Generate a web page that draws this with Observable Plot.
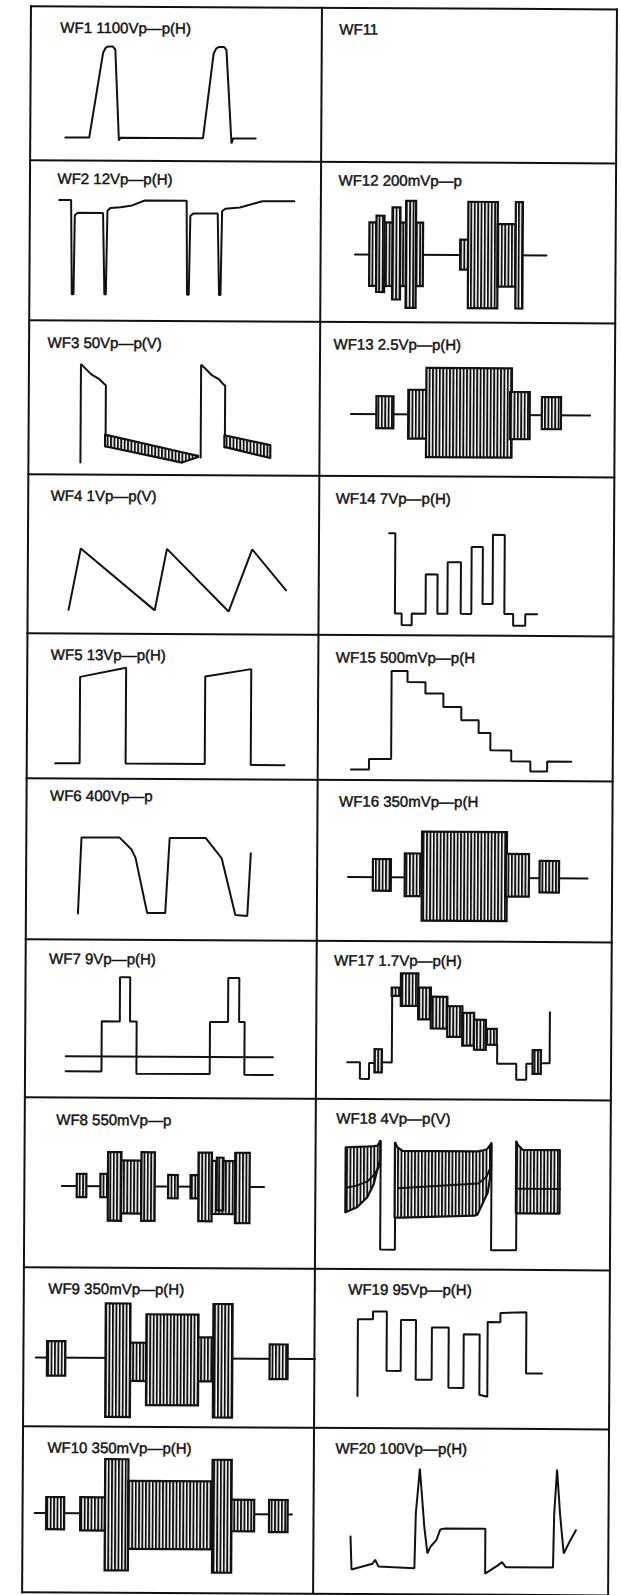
<!DOCTYPE html>
<html><head><meta charset="utf-8">
<script src="https://cdn.jsdelivr.net/npm/d3@7"></script>
<script src="https://cdn.jsdelivr.net/npm/@observablehq/plot@0.6"></script>
<style>
html,body{margin:0;padding:0;background:#fff;}
#sheet{position:relative;width:621px;height:1595px;overflow:hidden;background:#fff;}
#grid{position:absolute;left:0;top:0;width:621px;height:1595px;transform:rotate(0.32deg);transform-origin:0 0;}
.panel{position:absolute;}
.ln{position:absolute;background:#111;}
</style></head><body>
<svg width="0" height="0" style="position:absolute;left:0;top:0">
 <defs>
  <pattern id="hatch" width="3.4" height="10" patternUnits="userSpaceOnUse">
   <rect width="3.4" height="10" fill="#fff"/>
   <rect width="1.9" height="10" fill="#111"/>
  </pattern>
 </defs>
</svg>
<div id="sheet"><div id="grid"></div></div>
<script>
// ---------- labels ----------
const labels = [
  "WF1 1100Vp—p(H)", "WF2 12Vp—p(H)", "WF3 50Vp—p(V)", "WF4 1Vp—p(V)", "WF5 13Vp—p(H)",
  "WF6 400Vp—p", "WF7 9Vp—p(H)", "WF8 550mVp—p", "WF9 350mVp—p(H)", "WF10 350mVp—p(H)",
  "WF11", "WF12 200mVp—p", "WF13 2.5Vp—p(H)", "WF14 7Vp—p(H)", "WF15 500mVp—p(H",
  "WF16 350mVp—p(H", "WF17 1.7Vp—p(H)", "WF18 4Vp—p(V)", "WF19 95Vp—p(H)", "WF20 100Vp—p(H)"
];

// ---------- waveform traces (time %, amplitude %) ----------
const wf1Trace = [[[11.9,15.2],[20.1,15.2],[24.7,70.3],[25.6,73.6],[26.5,74.5],[28.0,74.5],[28.9,72.5],[30.3,13.4],[30.8,15.2],[59.2,15.2],[62.7,70.3],[63.6,73.6],[64.5,74.5],[66.3,74.5],[67.1,72.5],[69.0,11.9],[69.5,15.2],[77.3,15.2]]];
const wf2Trace = [[[9.9,75.5],[14.0,75.5],[14.4,16.7],[15.0,16.7],[15.3,66.0],[16.3,67.6],[25.0,67.6],[25.6,16.7],[26.1,16.7],[26.5,69.0],[27.5,70.7],[31.0,71.2],[35.0,72.4],[39.3,75.5],[53.7,75.5],[54.0,16.7],[54.6,16.7],[55.0,66.0],[56.0,67.6],[64.4,67.6],[65.0,16.7],[65.5,16.7],[65.9,69.0],[67.0,70.7],[72.0,71.5],[76.0,73.5],[79.7,75.5],[90.7,75.5]]];
const wf3Trace = [
  [[17.7,8.1],[17.7,72.0],[19.1,69.4],[21.2,65.5],[23.9,62.5],[25.6,59.5],[26.3,58.4],[26.3,18.4]],
  [[59.0,11.8],[59.0,72.0],[60.5,69.4],[62.5,65.5],[65.2,62.5],[66.6,59.5],[67.3,58.4],[67.3,18.4]]
];
const wf3Bands = [
  [[26.3,18.4,26.0],[52.8,8.1,14.8],[58.3,11.8,12.5]],
  [[67.3,18.4,26.0],[83.1,11.4,19.7]]
];
const wf4Trace = [[[13.9,15.1],[18.0,53.8],[43.5,15.1],[47.6,53.8],[68.9,14.6],[76.9,53.8],[88.6,28.2]]];
const wf5Trace = [[[9.6,10.8],[18.0,10.8],[18.0,70.4],[33.8,76.8],[33.8,10.8],[61.0,10.8],[61.0,71.1],[76.8,76.4],[76.8,10.3],[88.4,10.3]]];
const wf6Trace = [[[17.7,16.4],[18.8,63.7],[31.9,63.7],[36.0,56.4],[37.4,51.2],[41.5,17.0],[47.7,17.0],[49.1,63.7],[61.5,63.7],[65.6,54.4],[67.0,51.2],[71.8,16.0],[75.9,15.5],[77.0,54.4]]];
const wf7Trace = [
  [[13.8,26.4],[85.0,26.4]],
  [[13.8,16.9],[26.1,16.9],[26.1,48.6],[32.3,48.6],[32.3,76.5],[35.8,76.5],[35.8,48.6],[38.1,48.6],[38.1,15.6],[63.3,15.6],[63.3,48.6],[69.5,48.6],[69.5,76.5],[73.3,76.5],[73.3,48.6],[75.2,48.6],[75.2,15.2],[85.0,15.2]]
];
const wf8Trace = [[[12.7,48.2],[82.2,48.2]]];
const wf8Bursts = [[18.0,21.3,41.4,55.1],[26.1,29.1,41.4,55.1],[28.7,33.3,27.6,68.0],[33.3,40.2,31.9,63.1],[40.2,44.8,27.6,68.0],[49.4,52.7,41.0,54.7],[57.1,59.8,41.0,54.7],[59.8,64.4,27.6,68.0],[64.4,72.4,31.9,63.1],[66.1,68.4,34.0,65.0],[72.4,77.4,26.6,68.0]];
const wf9Trace = [[[4.1,43.5],[100,43.5]]];
const wf9Bursts = [[8.1,14.4,31.9,53.6],[28.2,36.7,6.1,77.5],[36.7,42.2,28.8,52.9],[42.2,60.1,13.7,70.8],[60.1,65.6,28.8,56.5],[65.2,71.8,6.1,77.5],[84.6,90.8,30.5,52.3]];
const wf10Trace = [[[4.0,48.0],[92.4,48.0]]];
const wf10Bursts = [[8.1,14.3,38.0,57.4],[19.8,28.3,37.4,57.4],[28.3,36.3,13.4,80.4],[36.3,65.2,26.4,67.4],[65.2,71.8,12.4,80.4],[71.8,79.6,37.4,56.4],[84.7,91.1,37.0,56.4]];
const wf12Trace = [[[11.5,42.5],[76.4,42.5]]];
const wf12Bursts = [[16.5,34.7,22.6,62.3],[18.9,21.6,18.8,66.5],[24.3,27.0,14.2,71.8],[28.9,32.3,9.0,75.9],[47.3,50.3,33.1,51.9],[50.0,60.0,9.0,75.5],[60.0,66.1,22.6,61.7],[66.1,68.5,9.0,75.5]];
const wf13Trace = [[[10.4,40.5],[91.5,40.5]]];
const wf13Bursts = [[19.2,25.0,31.1,51.9],[30.0,36.8,24.5,56.2],[36.1,65.1,12.5,70.5],[64.5,71.2,24.5,55.1],[75.3,81.8,31.1,51.9]];
const wf14Trace = [[[23.6,64.4],[25.7,64.4],[25.7,14.0],[28.0,14.0],[28.0,6.7],[31.4,6.7],[31.4,14.0],[36.1,14.0],[36.1,38.7],[40.1,38.7],[40.1,14.0],[43.5,14.0],[43.5,46.4],[48.0,46.4],[48.0,14.0],[51.6,14.0],[51.6,56.1],[55.4,56.1],[55.4,20.3],[58.8,20.3],[58.8,63.8],[62.8,63.8],[62.8,14.0],[65.8,14.0],[65.8,6.7],[69.9,6.7],[69.9,14.0],[73.9,14.0]]];
const wf15Trace = [[[11.1,7.6],[17.2,7.6],[17.2,14.9],[24.7,14.9],[24.7,75.7],[30.1,75.7],[30.1,68.1],[36.2,68.1],[36.2,60.3],[42.3,60.3],[42.3,51.1],[48.4,51.1],[48.4,42.0],[54.3,42.0],[54.3,33.3],[58.3,33.3],[58.3,21.3],[65.4,21.3],[65.4,13.8],[71.9,13.8],[71.9,6.9],[77.6,6.9],[77.6,13.8],[85.8,13.8]]];
const wf16Trace = [[[10.3,40.0],[91.5,40.0]]];
const wf16Bursts = [[18.9,25.0,31.3,51.0],[29.7,35.8,28.1,54.6],[35.5,64.3,12.9,68.1],[64.0,71.8,28.1,54.6],[75.4,82.0,30.8,50.4]];
const wf17Trace = [
  [[10.4,23.6],[14.7,23.6],[14.7,13.1],[17.8,13.1],[17.8,23.2],[19.8,23.2]],
  [[22.3,23.6],[25.5,23.6],[25.5,70.7]],
  [[61.2,34.8],[61.2,23.2],[67.7,23.2],[67.7,13.1],[71.1,13.1],[71.1,23.2],[73.4,23.2]],
  [[76.2,23.6],[79.0,23.6],[79.0,55.9]]
];
const wf17Bursts = [[19.8,22.3,16.9,31.6],[73.4,76.2,16.5,31.6],[25.5,28.6,65.4,70.7],[28.6,34.5,59.1,79.7],[34.5,38.8,50.6,70.7],[38.8,44.4,44.9,65.0],[44.4,49.5,39.7,59.1],[49.5,53.5,34.2,54.9],[53.5,57.5,31.6,50.6],[57.5,61.2,34.8,44.9]];
const wf18Frame = [
  [[21.9,75.5],[21.9,11.8],[26.9,11.8],[26.9,74.5]],
  [[59.5,74.5],[59.5,11.8],[68.0,11.8],[68.0,75.5]]
];
const wf18Mid = [
  [[10.2,48.0],[14.2,49.5],[17.6,52.0],[19.8,56.0],[21.9,62.0]],
  [[27.8,48.0],[55.0,51.0],[57.8,54.9],[59.5,61.8]],
  [[68.6,48.0],[82.8,48.0]]
];
const wf18Bands = [
  [[10.2,33.3,71.6],[14.2,36.3,71.9],[17.6,42.2,72.1],[19.8,50.0,72.3],[21.0,58.8,72.6],[21.9,64.0,75.5]],
  [[26.9,30.4,74.5],[27.8,30.4,71.6],[29.5,30.4,69.6],[53.9,31.8,69.6],[55.0,32.4,69.6],[57.8,43.1,70.6],[58.4,45.1,71.6],[59.3,55.0,73.5],[59.5,60.8,74.5]],
  [[68.0,33.3,75.5],[68.6,33.3,73.5],[70.3,33.3,70.6],[82.8,33.3,70.6]]
];
const wf19Trace = [[[14.5,20.4],[14.5,68.8],[19.6,68.8],[19.6,73.7],[24.3,73.7],[24.3,36.4],[29.1,36.4],[29.1,68.4],[34.2,68.4],[34.2,30.9],[39.6,30.9],[39.6,63.8],[45.3,63.8],[45.3,25.9],[50.4,25.9],[50.4,59.6],[55.8,59.6],[55.8,21.7],[58.5,20.4],[58.5,67.4],[62.8,67.4],[62.8,73.1],[71.6,73.7],[71.6,35.2],[77.0,35.2]]];
const wf20Trace = [[[12.4,35.0],[12.8,15.0],[19.9,18.6],[20.8,21.0],[21.9,17.0],[34.1,16.0],[34.5,49.0],[35.8,76.0],[37.4,41.0],[38.5,25.0],[39.5,29.0],[41.5,33.0],[42.8,39.4],[44.2,40.0],[58.1,40.0],[58.1,13.0],[62.4,18.0],[63.8,20.0],[65.1,17.0],[81.1,17.0],[81.4,49.0],[82.3,76.0],[83.4,49.0],[84.7,25.4],[86.8,33.0],[88.8,39.4]]];

// ---------- assemble panels (WF1..WF20) ----------
const traces = [wf1Trace, wf2Trace, wf3Trace, wf4Trace, wf5Trace, wf6Trace, wf7Trace, wf8Trace, wf9Trace, wf10Trace,
                [], wf12Trace, wf13Trace, wf14Trace, wf15Trace, wf16Trace, wf17Trace, wf18Frame, wf19Trace, wf20Trace];
const bursts = [[], [], [], [], [], [], [], wf8Bursts, wf9Bursts, wf10Bursts,
                [], wf12Bursts, wf13Bursts, [], [], wf16Bursts, wf17Bursts, [], [], []];
const bands = [[], [], wf3Bands, [], [], [], [], [], [], [], [], [], [], [], [], [], [], wf18Bands, [], []];
const overlays = [[], [], [], [], [], [], [], [], [], [], [], [], [], [], [], [], [], wf18Mid, [], []];

// ---------- layout (pixels) ----------
const colEdges = [31, 322, 617];
const rowEdges = [6, 160, 320, 474, 633, 778, 939, 1097, 1267, 1426, 1592];
const labelPos = [[29,26],[27,23],[18,27],[22,26],[23,26],[23,22],[23,24],[31,27],[24,26],[24,26],
                  [17,26],[17,23],[13,27],[16,27],[17,27],[21,26],[17,24],[20,24],[33,25],[21,25]];
const INK = "#111";

const grid = document.getElementById("grid");
const lineOpts = {x: d => d[0], y: d => d[1], stroke: INK, strokeWidth: 2, strokeLinejoin: "miter"};

labels.forEach((label, i) => {
  const col = i < 10 ? 0 : 1, row = i % 10;
  const x0 = colEdges[col], x1 = colEdges[col + 1];
  const y0 = rowEdges[row], y1 = rowEdges[row + 1];
  const w = x1 - x0, h = y1 - y0;
  const marks = [];
  traces[i].forEach(seg => marks.push(Plot.line(seg, lineOpts)));
  bands[i].forEach(b => marks.push(Plot.areaY(b, {x: d => d[0], y1: d => d[1], y2: d => d[2], fill: "url(#hatch)", stroke: INK, strokeWidth: 2.2})));
  if (bursts[i].length) marks.push(Plot.rect(bursts[i], {x1: d => d[0], x2: d => d[1], y1: d => d[2], y2: d => d[3], fill: "url(#hatch)", stroke: INK, strokeWidth: 2.2}));
  overlays[i].forEach(seg => marks.push(Plot.line(seg, lineOpts)));
  marks.push(Plot.text([label], {text: d => d, frameAnchor: "top-left", textAnchor: "start", lineAnchor: "bottom",
    dx: labelPos[i][0], dy: labelPos[i][1], fontSize: 15, fill: INK, stroke: INK, strokeWidth: 0.45}));
  const svg = Plot.plot({
    width: w, height: h, margin: 0,
    x: {domain: [0, 100], axis: null},
    y: {domain: [0, 100], axis: null},
    style: {background: "transparent", overflow: "visible", fontFamily: "'Liberation Sans', Arial, sans-serif"},
    marks
  });
  const div = document.createElement("div");
  div.className = "panel";
  div.style.left = x0 + "px"; div.style.top = y0 + "px";
  div.style.width = w + "px"; div.style.height = h + "px";
  div.appendChild(svg);
  grid.appendChild(div);
});

// grid lines of the sheet
rowEdges.forEach(y => {
  const d = document.createElement("div"); d.className = "ln";
  d.style.left = (colEdges[0] - 1) + "px"; d.style.top = (y - 1) + "px";
  d.style.width = (colEdges[2] - colEdges[0] + 2) + "px"; d.style.height = "2px";
  grid.appendChild(d);
});
colEdges.forEach(x => {
  const d = document.createElement("div"); d.className = "ln";
  d.style.left = (x - 1) + "px"; d.style.top = (rowEdges[0] - 1) + "px";
  d.style.width = "2px"; d.style.height = (rowEdges[rowEdges.length - 1] - rowEdges[0] + 2) + "px";
  grid.appendChild(d);
});
</script>
</body></html>
